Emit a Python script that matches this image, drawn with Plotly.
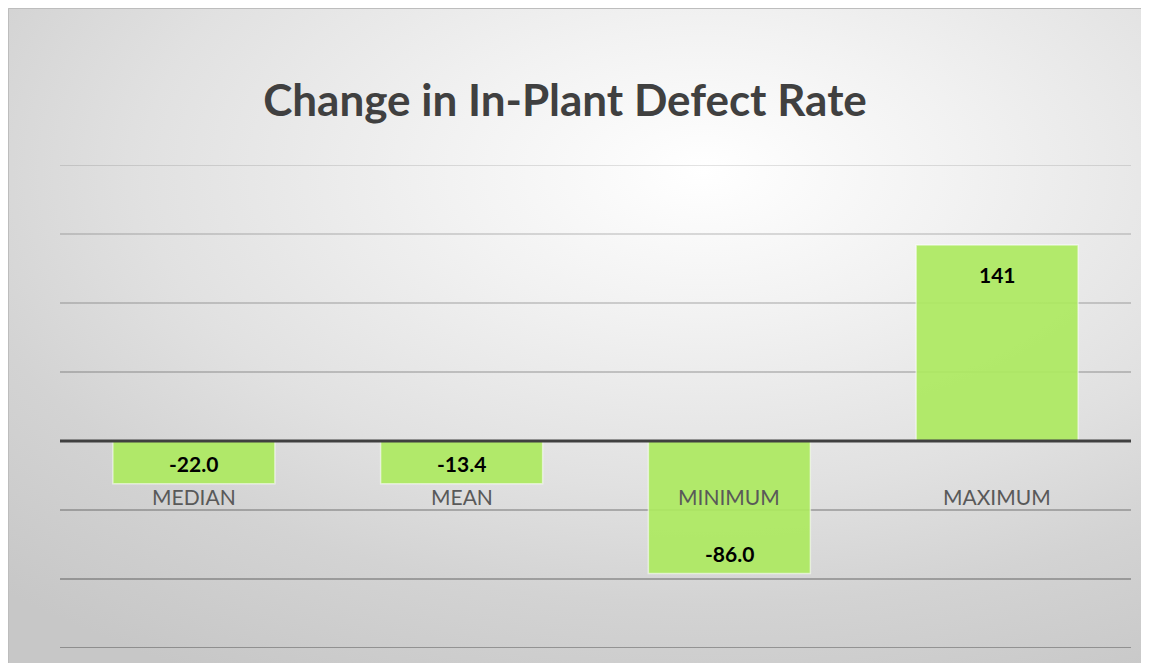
import base64
import plotly.graph_objects as go

# ---- data ----
categories = ["MEDIAN", "MEAN", "MINIMUM", "MAXIMUM"]
bar_values = [-31, -31, -96, 142]          # bar heights as drawn
bar_labels = ["-22.0", "-13.4", "-86.0", "141"]  # data labels as shown
grid_ticks = [200, 150, 100, 50, -50, -100, -150]
title_text = "Change in In-Plant Defect Rate"

# ---- canvas layout ----
W, H = 1160, 655
ML, MR, MT, MB = 52, 37, 157, 15
PW, PH = W - ML - MR, H - MT - MB


def px_to_paper_x(px):
    return (px - ML) / PW


def px_to_paper_y(py):
    return (H - MB - py) / PH


# ---- background gradient (SVG data URI) ----
svg = (
    f'<svg xmlns="http://www.w3.org/2000/svg" width="{W}" height="{H}" '
    f'viewBox="0 0 {W} {H}" preserveAspectRatio="none">'
    '<defs><radialGradient id="g" cx="0.6" cy="0.25" r="0.88">'
    '<stop offset="0" stop-color="#ffffff"/>'
    '<stop offset="0.25" stop-color="#f2f2f2"/>'
    '<stop offset="0.55" stop-color="#e1e1e1"/>'
    '<stop offset="0.75" stop-color="#d3d3d3"/>'
    '<stop offset="1" stop-color="#c7c7c7"/>'
    '</radialGradient></defs>'
    f'<rect x="0" y="0" width="{W}" height="{H}" fill="url(#g)"/></svg>'
)
svg_uri = "data:image/svg+xml;base64," + base64.b64encode(svg.encode()).decode()

fig = go.Figure()

fig.add_trace(go.Bar(
    x=categories,
    y=bar_values,
    marker=dict(color="rgba(172,233,96,0.92)",
                line=dict(color="rgba(255,255,255,0.55)", width=1.5)),
    hoverinfo="skip",
))

shapes = []
# gridlines (darker toward the bottom)
for v in grid_ticks:
    alpha = 0.21 - 0.0005 * v
    shapes.append(dict(type="line", xref="paper", yref="y", x0=0, x1=1, y0=v, y1=v,
                       line=dict(color=f"rgba(0,0,0,{alpha:.3f})", width=2), layer="below"))
# zero line above bars
shapes.append(dict(type="line", xref="paper", yref="y", x0=0, x1=1, y0=0, y1=0,
                   line=dict(color="#404040", width=3), layer="above"))
# chart border (top / left edges visible)
shapes.append(dict(type="rect", xref="paper", yref="paper",
                   x0=px_to_paper_x(0.5), x1=px_to_paper_x(W + 2),
                   y0=px_to_paper_y(H + 2), y1=px_to_paper_y(0.5),
                   line=dict(color="#bdbdbd", width=1), layer="below"))

annotations = []
for c, v, lab in zip(categories, bar_values, bar_labels):
    annotations.append(dict(x=c, y=v, xref="x", yref="y", text=f"<b>{lab}</b>",
                            showarrow=False, yanchor="middle",
                            yshift=(-29 if v > 0 else 20),
                            font=dict(family="Lato", size=21, color="#000000")))
    annotations.append(dict(x=c, y=0, xref="x", yref="y", text=c,
                            showarrow=False, yanchor="middle", yshift=-55,
                            font=dict(family="Lato", size=21, color="#595959")))

fig.update_layout(
    width=W, height=H,
    margin=dict(l=ML, r=MR, t=MT, b=MB, pad=0),
    paper_bgcolor="#ffffff",
    plot_bgcolor="rgba(0,0,0,0)",
    showlegend=False,
    bargap=0.395,
    title=dict(text=f"<b>{title_text}</b>", x=557 / W, y=1 - 93 / H,
               xanchor="center", yanchor="middle",
               font=dict(family="Lato", size=44, color="#404040")),
    xaxis=dict(showticklabels=False, showgrid=False, zeroline=False, showline=False,
               ticks=""),
    yaxis=dict(range=[-150, 200], showticklabels=False, showgrid=False,
               zeroline=False, showline=False, ticks=""),
    shapes=shapes,
    annotations=annotations,
    images=[dict(source=svg_uri, xref="paper", yref="paper",
                 x=px_to_paper_x(0), y=px_to_paper_y(0),
                 sizex=W / PW, sizey=H / PH, sizing="stretch",
                 xanchor="left", yanchor="top", layer="below")],
)

fig.write_html("out.html")
